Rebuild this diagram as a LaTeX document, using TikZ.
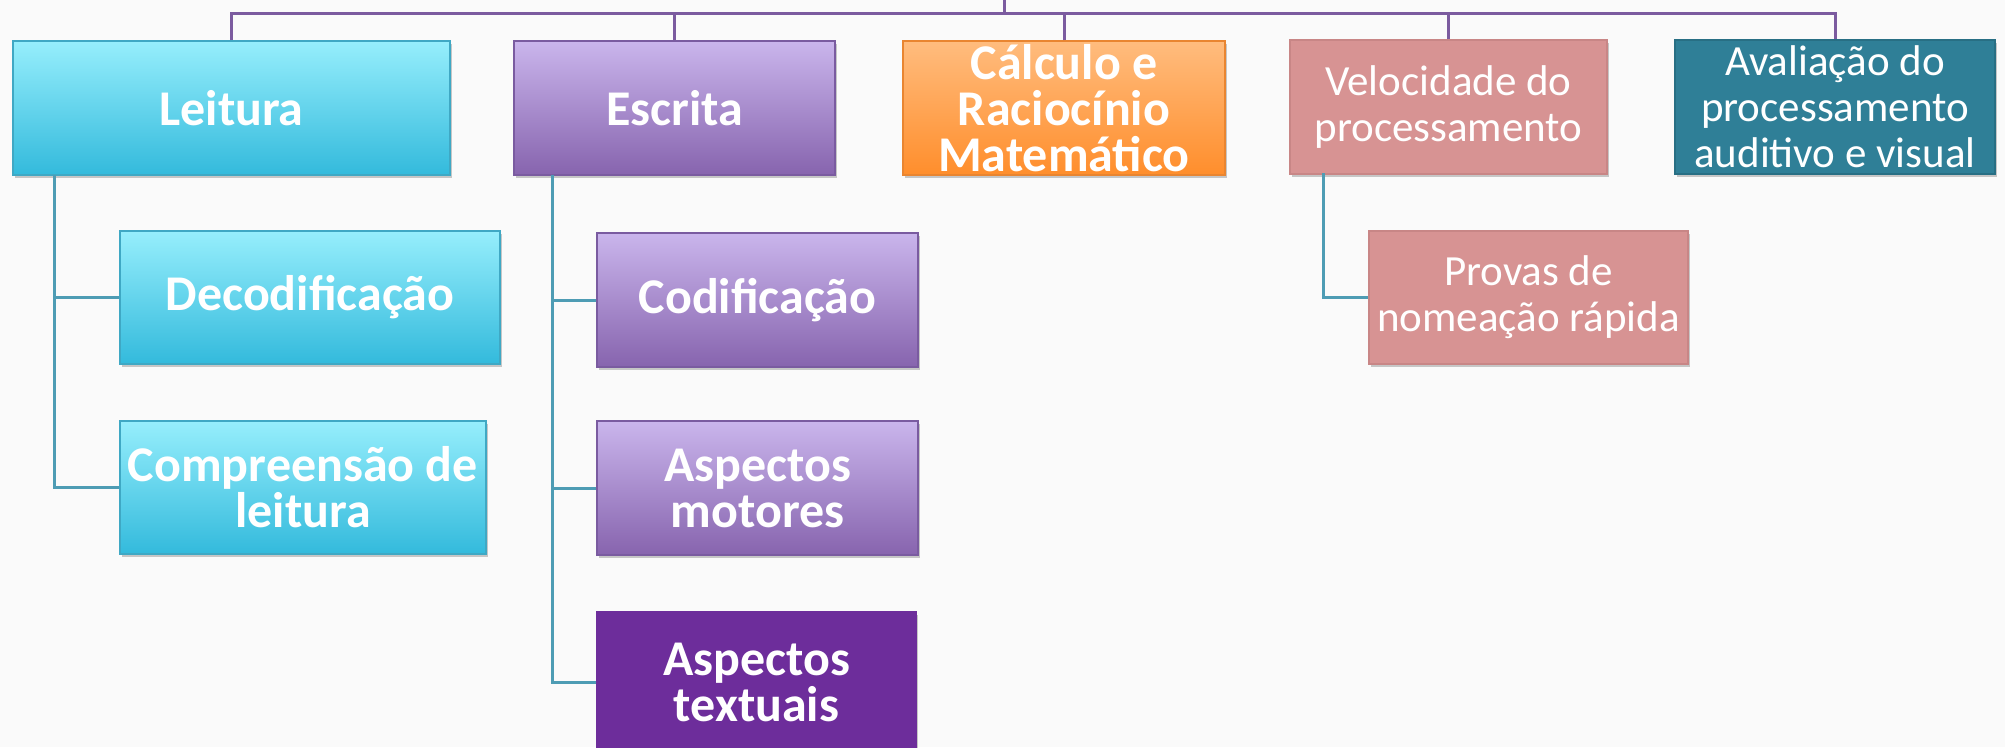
\documentclass[tikz,border=0pt]{standalone}
\usepackage{fontspec}
\setmainfont{Carlito}
\usetikzlibrary{shadows}
\definecolor{bgC}{HTML}{FAFAFA}
\definecolor{cyanT}{HTML}{96EEFC}
\definecolor{cyanB}{HTML}{33BADC}
\definecolor{cyanD}{HTML}{3FA8C4}
\definecolor{purT}{HTML}{CAB5EC}
\definecolor{purB}{HTML}{8764AE}
\definecolor{purD}{HTML}{7A5BA0}
\definecolor{oraT}{HTML}{FFBC7E}
\definecolor{oraB}{HTML}{FF8E2C}
\definecolor{oraD}{HTML}{E98530}
\definecolor{pinkC}{HTML}{D79393}
\definecolor{pinkD}{HTML}{C88686}
\definecolor{tealC}{HTML}{2F7F97}
\definecolor{tealD}{HTML}{286F84}
\definecolor{darkPur}{HTML}{6D2D9B}
\definecolor{busC}{HTML}{7B5B9F}
\definecolor{spC}{HTML}{4E9CB4}
\tikzset{
  box/.style={draw, line width=1.2pt, minimum height=134pt, inner sep=2pt, align=center, text=white,
    drop shadow={shadow xshift=2pt, shadow yshift=-3pt, opacity=0.35, fill=black!60}},
  bt/.style={font=\fontsize{50}{46}\selectfont\bfseries},
  rt/.style={font=\fontsize{43}{46}\selectfont},
  cyanbox/.style={box, bt, top color=cyanT, bottom color=cyanB, draw=cyanD},
  purbox/.style={box, bt, top color=purT, bottom color=purB, draw=purD},
  orabox/.style={box, bt, top color=oraT, bottom color=oraB, draw=oraD},
  pinkbox/.style={box, rt, fill=pinkC, draw=pinkD},
  tealbox/.style={box, rt, fill=tealC, draw=tealD},
  dpurbox/.style={box, bt, fill=darkPur, draw=darkPur},
  bus/.style={draw=busC, line width=3pt},
  spine/.style={draw=spC, line width=3pt},
}
\begin{document}
\begin{tikzpicture}[x=1pt, y=-1pt]
\useasboundingbox (0,0) rectangle (2005,747);
\fill[bgC] (0,0) rectangle (2005,747);

% top level
\node[cyanbox, minimum width=437pt] (leitura) at (231.5,108) {Leitura};
\node[purbox, minimum width=321pt] (escrita) at (674.5,108) {Escrita};
\node[orabox, minimum width=322pt] (calculo) at (1064,108) {Cálculo e\\Raciocínio\\Matemático};
\node[pinkbox, minimum width=317pt] (veloc) at (1448.5,107) {Velocidade do\\processamento};
\node[tealbox, minimum width=320pt] (aval) at (1835,107) {Avaliação do\\processamento\\auditivo e visual};

% children
\node[cyanbox, minimum width=380pt, minimum height=133pt] (decod) at (310,297.5) {Decodificação};
\node[cyanbox, minimum width=366pt, minimum height=133pt] (compr) at (303,487.5) {Compreensão de\\leitura};
\node[purbox, minimum width=321pt] (codif) at (757.5,300) {Codificação};
\node[purbox, minimum width=321pt] (motor) at (757.5,488) {Aspectos\\motores};
\node[dpurbox, minimum width=319pt, minimum height=140pt] (textu) at (756.5,682) {Aspectos\\textuais};
\node[pinkbox, minimum width=319pt, minimum height=133pt] (provas) at (1528.5,297.5) {Provas de\\nomeação rápida};

% bus
\coordinate (root) at (1004,0);
\coordinate (busy) at (1004,13);
\draw[bus] (root) -- (busy);
\draw[bus] (leitura.north) |- (aval.north |- busy) -- (aval.north);
\draw[bus] (escrita.north) -- (escrita.north |- busy);
\draw[bus] (calculo.north) -- (calculo.north |- busy);
\draw[bus] (veloc.north) -- (veloc.north |- busy);

% spines
\coordinate (lsp) at (54,175);
\coordinate (esp) at (552,175);
\coordinate (vsp) at (1323,173);
\draw[spine] (lsp) |- (decod.west);
\draw[spine] (lsp) |- (compr.west);
\draw[spine] (esp) |- (codif.west);
\draw[spine] (esp) |- (motor.west);
\draw[spine] (esp) |- (textu.west);
\draw[spine] (vsp) |- (provas.west);
\end{tikzpicture}
\end{document}
